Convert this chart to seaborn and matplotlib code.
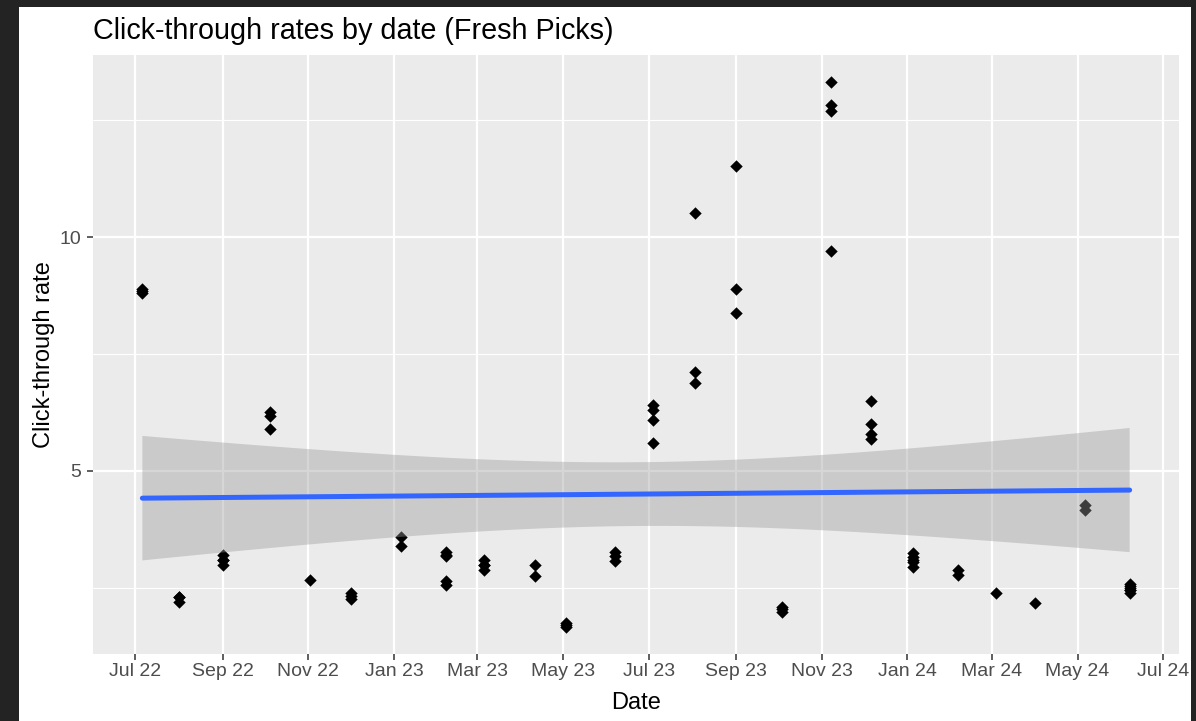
import numpy as np
import pandas as pd
import matplotlib
matplotlib.use("Agg")
import matplotlib.pyplot as plt
import matplotlib.dates as mdates
from matplotlib.patches import Rectangle
from matplotlib.ticker import MultipleLocator
import seaborn as sns

# ---- data (stacked diamonds may hide repeats) ----
send_dates = [
    "2022-07-06", "2022-08-01", "2022-09-01", "2022-10-05", "2022-11-02", "2022-12-01",
    "2023-01-06", "2023-02-07", "2023-03-06", "2023-04-11", "2023-05-03", "2023-06-07",
    "2023-07-04", "2023-08-03", "2023-09-01", "2023-10-04", "2023-11-08", "2023-12-06",
    "2024-01-05", "2024-02-06", "2024-03-04", "2024-04-01", "2024-05-06", "2024-06-07",
]
rates_by_send = [
    [8.9, 8.85, 8.8],
    [2.3, 2.3, 2.2],
    [3.2, 3.1, 3.1, 3.0],
    [6.26, 6.18, 5.9],
    [2.67],
    [2.4, 2.33, 2.27],
    [3.59, 3.4],
    [3.27, 3.2, 3.18, 2.65, 2.56],
    [3.1, 3.0, 2.99, 2.88],
    [2.99, 2.76],
    [1.76, 1.7, 1.67],
    [3.27, 3.18, 3.08],
    [6.41, 6.3, 6.09, 5.6],
    [10.51, 7.12, 6.88],
    [11.52, 8.89, 8.38],
    [2.09, 2.05, 1.99],
    [13.31, 12.82, 12.69, 9.7],
    [6.5, 6.0, 5.79, 5.68],
    [3.25, 3.16, 3.1, 3.06, 2.95],
    [2.88, 2.78],
    [2.39],
    [2.18],
    [4.27, 4.17],
    [2.59, 2.55, 2.5, 2.45, 2.45, 2.39],
]
title_text = "Click-through rates by date (Fresh Picks)"
x_label = "Date"
y_label = "Click-through rate"

rows = []
for d, rates in zip(send_dates, rates_by_send):
    for r in rates:
        rows.append((pd.Timestamp(d), r))
df = pd.DataFrame(rows, columns=["date", "rate"])
df["x"] = mdates.date2num(df["date"])

# ---- style ----
sns.set_theme(style="darkgrid")
plt.rcParams["font.family"] = ["Liberation Sans", "DejaVu Sans"]

W, H = 1196, 721
fig = plt.figure(figsize=(W / 100, H / 100), dpi=100)
fig.patch.set_facecolor("#232323")
fig.add_artist(Rectangle((19 / W, 0), (1191 - 19) / W, 1 - 7 / H,
                         transform=fig.transFigure, facecolor="white",
                         edgecolor="none", zorder=-10))

ax = fig.add_axes([93 / W, 1 - 654 / H, (1179 - 93) / W, (654 - 55) / H])
ax.set_facecolor("#EBEBEB")

# points first, so the confidence band is laid over them (as in ggplot)
sns.scatterplot(data=df, x="x", y="rate", marker="D", s=40, color="black",
                linewidth=0, ax=ax, zorder=1, legend=False)

# linear fit line via seaborn
sns.regplot(data=df, x="x", y="rate", scatter=False, ci=None, truncate=True,
            line_kws=dict(color="#3366FF", linewidth=3.6, zorder=3), ax=ax)

# analytic 95% confidence band of the linear fit (like geom_smooth(method="lm"))
xv = df["x"].to_numpy()
yv = df["rate"].to_numpy()
n = len(xv)
slope, intercept = np.polyfit(xv, yv, 1)
resid = yv - (slope * xv + intercept)
s_err = np.sqrt(np.sum(resid ** 2) / (n - 2))
grid = np.linspace(xv.min(), xv.max(), 80)
sxx = np.sum((xv - xv.mean()) ** 2)
se_fit = s_err * np.sqrt(1.0 / n + (grid - xv.mean()) ** 2 / sxx)
z = 1.959964
dof = n - 2
tq = z + (z ** 3 + z) / (4 * dof) + (5 * z ** 5 + 16 * z ** 3 + 3 * z) / (96 * dof ** 2)
fit = slope * grid + intercept
ax.fill_between(grid, fit - tq * se_fit, fit + tq * se_fit, facecolor="#999999",
                alpha=0.4, edgecolor="none", zorder=2)

# limits with ggplot-like 5% expansion
x0, x1 = xv.min(), xv.max()
y0, y1 = yv.min(), yv.max()
ax.set_xlim(x0 - 0.05 * (x1 - x0), x1 + 0.05 * (x1 - x0))
ax.set_ylim(y0 - 0.05 * (y1 - y0), y1 + 0.05 * (y1 - y0))

ax.xaxis.set_major_locator(mdates.MonthLocator(bymonth=[1, 3, 5, 7, 9, 11]))
ax.xaxis.set_major_formatter(mdates.DateFormatter("%b %y"))
ax.yaxis.set_major_locator(MultipleLocator(5))
ax.yaxis.set_minor_locator(MultipleLocator(2.5))

ax.grid(False)
ax.xaxis.grid(True, which="major", color="white", linewidth=1.6)
ax.yaxis.grid(True, which="major", color="white", linewidth=1.6)
ax.yaxis.grid(True, which="minor", color="white", linewidth=0.8)
ax.set_axisbelow(True)
for sp in ax.spines.values():
    sp.set_visible(False)

ax.tick_params(axis="both", which="major", bottom=True, left=True, labelsize=14,
               labelcolor="#4D4D4D", color="#333333", length=4.3, width=1.1)
ax.tick_params(axis="x", which="major", pad=2.2)
ax.tick_params(axis="y", which="major", pad=4.3)
ax.tick_params(which="minor", length=0)

ax.set_xlabel(x_label, fontsize=17, color="black")
ax.set_ylabel(y_label, fontsize=17, color="black")
ax.xaxis.set_label_coords(0.5, -0.0634)
ax.yaxis.set_label_coords(-0.035, 0.5)
ax.set_title(title_text, loc="left", fontsize=20.7, pad=11.5, color="black")

fig.savefig("out.png", dpi=100)
